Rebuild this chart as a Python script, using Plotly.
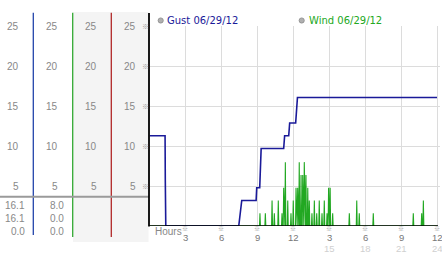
import plotly.graph_objects as go

W, H = 442, 253

# ---------------- data ----------------
gust_hours = [0.0, 1.30, 1.32, 1.36, 7.45, 7.70, 8.90, 8.95, 9.20, 9.25, 9.32,
              11.20, 11.28, 11.62, 11.70, 12.20, 12.27, 12.35, 24.0]
gust_kmh = [11.3, 11.3, 5.6, 0.0, 0.0, 3.2, 3.2, 4.8, 4.8, 7.2, 9.7,
            9.7, 11.3, 11.3, 12.9, 12.9, 14.5, 16.1, 16.1]

wind_hours = [0.0,
              9.18, 9.22, 9.26,
              9.63, 9.67, 9.71,
              10.19, 10.23, 10.27,
              10.38, 10.42, 10.46,
              10.71, 10.75, 10.79,
              11.02, 11.06, 11.10,
              11.16, 11.20, 11.24,
              11.30, 11.34, 11.38,
              11.50, 11.54, 11.58,
              11.77, 11.81, 11.85,
              11.96, 12.00, 12.04,
              12.19, 12.23, 12.27,
              12.33, 12.37, 12.41,
              12.46, 12.50, 12.54,
              12.61, 12.65, 12.69,
              12.75, 12.79, 12.83,
              12.88, 12.92, 12.96,
              13.02, 13.06, 13.10,
              13.17, 13.21, 13.25,
              13.30, 13.34, 13.38,
              13.52, 13.56, 13.60,
              13.72, 13.76, 13.80,
              13.92, 13.96, 14.00,
              14.13, 14.17, 14.21,
              14.36, 14.40, 14.44,
              14.55, 14.59, 14.63,
              14.78, 14.82, 14.86,
              14.91, 14.95, 14.99,
              15.04, 15.08, 15.12,
              15.25, 15.29, 15.33,
              16.64, 16.68, 16.72,
              17.26, 17.30, 17.34,
              17.47, 17.51, 17.55,
              18.64, 18.68, 18.72,
              21.98, 22.02, 22.06,
              22.68, 22.72, 22.76,
              22.82, 22.86, 22.90,
              24.0]
wind_kmh = [0.0,
            0, 1.6, 0,
            0, 1.6, 0,
            0, 3.2, 0,
            0, 1.6, 0,
            0, 3.2, 0,
            0, 1.6, 0,
            0, 4.8, 0,
            0, 8.0, 0,
            0, 3.2, 0,
            0, 1.6, 0,
            0, 3.2, 0,
            0, 4.8, 0,
            0, 4.8, 0,
            0, 8.0, 0,
            0, 6.4, 0,
            0, 6.4, 0,
            0, 8.0, 0,
            0, 6.4, 0,
            0, 4.8, 0,
            0, 3.2, 0,
            0, 1.6, 0,
            0, 3.2, 0,
            0, 1.6, 0,
            0, 3.2, 0,
            0, 1.6, 0,
            0, 3.2, 0,
            0, 1.6, 0,
            0, 4.8, 0,
            0, 4.8, 0,
            0, 1.6, 0,
            0, 1.6, 0,
            0, 3.2, 0,
            0, 1.6, 0,
            0, 1.6, 0,
            0, 1.6, 0,
            0, 1.6, 0,
            0, 3.2, 0,
            0.0]

y_ticks = [5, 10, 15, 20, 25]
hour_ticks = [3, 6, 9, 12, 15, 18, 21, 24]
hour_labels = ["3", "6", "9", "12", "3", "6", "9", "12"]
hour_labels_24 = ["", "", "", "", "15", "18", "21", "24"]

summary_gust = ["16.1", "16.1", "0.0"]
summary_wind = ["8.0", "0.0", "0.0"]

legend_names = ["Gust 06/29/12", "Wind 06/29/12"]

GUST_C = "#1a1a99"
WIND_C = "#22a822"
NUM_FONT = "Liberation Sans, Arial, sans-serif"
LEG_FONT = "DejaVu Sans, Verdana, sans-serif"
MARK_FONT = "Noto Sans CJK JP, DejaVu Sans, sans-serif"


def px(x):
    return x / W


def py(y):
    return 1 - y / H


X0, X1 = 149.5, 440.0
Y0, Y1 = 226.0, 26.0

fig = go.Figure()
fig.add_trace(go.Scatter(x=wind_hours, y=wind_kmh, mode="lines",
                         line=dict(color=WIND_C, width=1.1), hoverinfo="skip"))
fig.add_trace(go.Scatter(x=gust_hours, y=gust_kmh, mode="lines",
                         line=dict(color=GUST_C, width=1.6), hoverinfo="skip"))

shapes = []
shapes.append(dict(type="rect", xref="paper", yref="paper", x0=px(73), x1=px(148.5),
                   y0=py(242), y1=py(12), fillcolor="#f4f4f4", line=dict(width=0), layer="below"))
for xc, col, yb in [(33.3, "#2244aa", 235), (72.7, "#33a833", 237), (111.3, "#b02828", 237)]:
    shapes.append(dict(type="line", xref="paper", yref="paper", x0=px(xc), x1=px(xc),
                       y0=py(12.7), y1=py(yb), line=dict(color=col, width=1.3)))
shapes.append(dict(type="line", xref="paper", yref="paper", x0=0, x1=px(149),
                   y0=py(196.7), y1=py(196.7), line=dict(color="#9a9a9a", width=2)))
shapes.append(dict(type="line", xref="paper", yref="paper", x0=px(149), x1=px(149),
                   y0=py(13), y1=py(226.5), line=dict(color="black", width=1.8)))
shapes.append(dict(type="line", xref="paper", yref="y", x0=px(149), x1=px(438),
                   y0=0, y1=0, line=dict(color="black", width=1.6)))
for cx in [160.7, 301.7]:
    shapes.append(dict(type="circle", xref="paper", yref="paper",
                       x0=px(cx - 2.6), x1=px(cx + 2.6), y0=py(20.5 + 2.6), y1=py(20.5 - 2.6),
                       fillcolor="#b0b0b0", line=dict(color="#8a8a8a", width=0.8)))

ann = []
col_right = [20.5, 60, 99, 137.5]
for v in y_ticks:
    for xr in col_right:
        ann.append(dict(x=px(xr), y=v, xref="paper", yref="y", text=str(v), showarrow=False,
                        xanchor="right", yanchor="middle",
                        font=dict(family=NUM_FONT, size=10, color="#888888")))
    ann.append(dict(x=px(145), y=v, xref="paper", yref="y", text="※", showarrow=False,
                    xanchor="center", yanchor="middle",
                    font=dict(family=MARK_FONT, size=7, color="#999999")))

rows_y = [205, 218.3, 231.7]
for i, yy in enumerate(rows_y):
    ann.append(dict(x=px(26.5), y=py(yy), xref="paper", yref="paper", text=summary_gust[i],
                    showarrow=False, xanchor="right", yanchor="middle",
                    font=dict(family=NUM_FONT, size=10, color="#888888")))
    ann.append(dict(x=px(66.3), y=py(yy), xref="paper", yref="paper", text=summary_wind[i],
                    showarrow=False, xanchor="right", yanchor="middle",
                    font=dict(family=NUM_FONT, size=10, color="#888888")))

for h, lab, lab2 in zip(hour_ticks, hour_labels, hour_labels_24):
    ann.append(dict(x=h, y=py(228.6), xref="x", yref="paper", text="※", showarrow=False,
                    xanchor="center", yanchor="middle", borderpad=0,
                    font=dict(family=MARK_FONT, size=6, color="#999999")))
    ann.append(dict(x=h, y=py(237.6), xref="x", yref="paper", text=lab, showarrow=False,
                    xanchor="center", yanchor="middle", borderpad=0,
                    font=dict(family=NUM_FONT, size=9.5, color="#777777")))
    if lab2:
        ann.append(dict(x=h, y=py(248.3), xref="x", yref="paper", text=lab2, showarrow=False,
                        xanchor="center", yanchor="middle", borderpad=0,
                        font=dict(family=NUM_FONT, size=9.5, color="#d0d0d0")))

ann.append(dict(x=px(153), y=py(231.7), xref="paper", yref="paper", text="Hours",
                showarrow=False, xanchor="left", yanchor="middle",
                font=dict(family=NUM_FONT, size=10, color="#888888")))

for xl, name, col in [(165.3, legend_names[0], GUST_C), (306.5, legend_names[1], WIND_C)]:
    ann.append(dict(x=px(xl), y=py(20.5), xref="paper", yref="paper", text=name,
                    showarrow=False, xanchor="left", yanchor="middle",
                    font=dict(family=LEG_FONT, size=10, color=col)))

fig.update_layout(
    width=W, height=H, margin=dict(l=0, r=0, t=0, b=0),
    paper_bgcolor="white", plot_bgcolor="white", showlegend=False,
    shapes=shapes, annotations=ann,
    xaxis=dict(domain=[px(X0), px(X1)], range=[0, (X1 - X0) / 11.98], dtick=3, tick0=0,
               showgrid=True, gridcolor="#dcdcdc", gridwidth=1, zeroline=False,
               showticklabels=False, ticks="", showline=False, fixedrange=True),
    yaxis=dict(domain=[py(Y0), py(Y1)], range=[0, 25.05], dtick=5, tick0=0,
               showgrid=True, gridcolor="#dcdcdc", gridwidth=1, zeroline=False,
               showticklabels=False, ticks="", showline=False, fixedrange=True),
)

fig.write_html("out.html")
